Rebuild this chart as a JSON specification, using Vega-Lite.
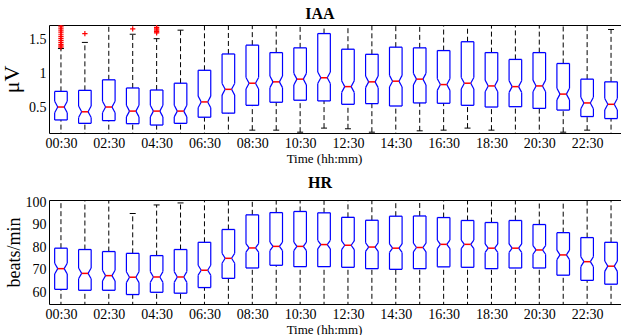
{
  "$schema": "https://vega.github.io/schema/vega-lite/v6.json",
  "background": "white",
  "padding": {"left": 0, "top": 5, "right": 0, "bottom": 0},
  "config": {
    "font": "Liberation Serif",
    "view": {"stroke": "black", "strokeWidth": 1},
    "axis": {"grid": false, "ticks": false, "domain": false, "labelFontSize": 14, "labelColor": "black", "titleColor": "black", "titleFontWeight": "normal", "labelFont": "Liberation Serif", "titleFont": "Liberation Serif", "labelOverlap": false},
    "title": {"font": "Liberation Serif", "fontSize": 16, "fontWeight": "bold", "color": "black", "anchor": "middle", "dx": -16}
  },
  "datasets": {
    "iaa": [
      {"h": 0, "lo": 0.05, "q1": 0.31, "nlo": 0.415, "med": 0.50, "nhi": 0.585, "q3": 0.73, "hi": 1.36},
      {"h": 1, "lo": 0.05, "q1": 0.26, "nlo": 0.345, "med": 0.43, "nhi": 0.515, "q3": 0.745, "hi": 1.45},
      {"h": 2, "lo": 0.05, "q1": 0.30, "nlo": 0.415, "med": 0.50, "nhi": 0.585, "q3": 0.90, "hi": 1.9},
      {"h": 3, "lo": 0.05, "q1": 0.255, "nlo": 0.355, "med": 0.44, "nhi": 0.525, "q3": 0.78, "hi": 1.57},
      {"h": 4, "lo": 0.05, "q1": 0.235, "nlo": 0.355, "med": 0.44, "nhi": 0.525, "q3": 0.75, "hi": 1.505},
      {"h": 5, "lo": 0.05, "q1": 0.26, "nlo": 0.355, "med": 0.44, "nhi": 0.525, "q3": 0.85, "hi": 1.63},
      {"h": 6, "lo": 0.05, "q1": 0.35, "nlo": 0.49, "med": 0.575, "nhi": 0.66, "q3": 1.04, "hi": 1.9},
      {"h": 7, "lo": 0.05, "q1": 0.41, "nlo": 0.675, "med": 0.76, "nhi": 0.845, "q3": 1.28, "hi": 1.9},
      {"h": 8, "lo": 0.16, "q1": 0.525, "nlo": 0.765, "med": 0.85, "nhi": 0.935, "q3": 1.41, "hi": 1.9},
      {"h": 9, "lo": 0.16, "q1": 0.57, "nlo": 0.785, "med": 0.87, "nhi": 0.955, "q3": 1.30, "hi": 1.9},
      {"h": 10, "lo": 0.13, "q1": 0.60, "nlo": 0.825, "med": 0.91, "nhi": 0.995, "q3": 1.37, "hi": 1.9},
      {"h": 11, "lo": 0.19, "q1": 0.59, "nlo": 0.845, "med": 0.93, "nhi": 1.015, "q3": 1.58, "hi": 1.9},
      {"h": 12, "lo": 0.18, "q1": 0.54, "nlo": 0.715, "med": 0.80, "nhi": 0.885, "q3": 1.35, "hi": 1.9},
      {"h": 13, "lo": 0.13, "q1": 0.55, "nlo": 0.785, "med": 0.87, "nhi": 0.955, "q3": 1.275, "hi": 1.9},
      {"h": 14, "lo": 0.05, "q1": 0.515, "nlo": 0.795, "med": 0.88, "nhi": 0.965, "q3": 1.38, "hi": 1.9},
      {"h": 15, "lo": 0.15, "q1": 0.56, "nlo": 0.825, "med": 0.91, "nhi": 0.995, "q3": 1.37, "hi": 1.9},
      {"h": 16, "lo": 0.16, "q1": 0.555, "nlo": 0.745, "med": 0.83, "nhi": 0.915, "q3": 1.33, "hi": 1.9},
      {"h": 17, "lo": 0.19, "q1": 0.525, "nlo": 0.765, "med": 0.85, "nhi": 0.935, "q3": 1.46, "hi": 1.9},
      {"h": 18, "lo": 0.16, "q1": 0.50, "nlo": 0.725, "med": 0.81, "nhi": 0.895, "q3": 1.30, "hi": 1.9},
      {"h": 19, "lo": 0.05, "q1": 0.505, "nlo": 0.715, "med": 0.80, "nhi": 0.885, "q3": 1.20, "hi": 1.9},
      {"h": 20, "lo": 0.05, "q1": 0.48, "nlo": 0.725, "med": 0.81, "nhi": 0.895, "q3": 1.30, "hi": 1.9},
      {"h": 21, "lo": 0.13, "q1": 0.455, "nlo": 0.605, "med": 0.69, "nhi": 0.775, "q3": 1.14, "hi": 1.9},
      {"h": 22, "lo": 0.16, "q1": 0.36, "nlo": 0.475, "med": 0.56, "nhi": 0.645, "q3": 0.91, "hi": 1.9},
      {"h": 23, "lo": 0.05, "q1": 0.33, "nlo": 0.455, "med": 0.54, "nhi": 0.625, "q3": 0.87, "hi": 1.64}
    ],
    "iaaOut": [
      {"h": 0, "v": 1.38}, {"h": 0, "v": 1.40}, {"h": 0, "v": 1.42}, {"h": 0, "v": 1.45},
      {"h": 0, "v": 1.48}, {"h": 0, "v": 1.51}, {"h": 0, "v": 1.54}, {"h": 0, "v": 1.57},
      {"h": 0, "v": 1.60}, {"h": 0, "v": 1.63}, {"h": 0, "v": 1.66}, {"h": 0, "v": 1.69},
      {"h": 1, "v": 1.58},
      {"h": 3, "v": 1.65},
      {"h": 4, "v": 1.59}, {"h": 4, "v": 1.61}, {"h": 4, "v": 1.63}, {"h": 4, "v": 1.65}, {"h": 4, "v": 1.67}
    ],
    "hr": [
      {"h": 0, "lo": 50, "q1": 61.3, "nlo": 68.1, "med": 70.5, "nhi": 72.9, "q3": 79.6, "hi": 105},
      {"h": 1, "lo": 50, "q1": 60.9, "nlo": 66.0, "med": 68.4, "nhi": 70.8, "q3": 79.0, "hi": 105},
      {"h": 2, "lo": 50, "q1": 60.9, "nlo": 65.0, "med": 67.4, "nhi": 69.8, "q3": 78.1, "hi": 105},
      {"h": 3, "lo": 50, "q1": 59.0, "nlo": 64.3, "med": 66.7, "nhi": 69.1, "q3": 77.3, "hi": 95.0},
      {"h": 4, "lo": 50, "q1": 60.0, "nlo": 64.4, "med": 66.8, "nhi": 69.2, "q3": 76.3, "hi": 98.8},
      {"h": 5, "lo": 50, "q1": 59.6, "nlo": 64.4, "med": 66.8, "nhi": 69.2, "q3": 79.0, "hi": 99.7},
      {"h": 6, "lo": 50, "q1": 62.1, "nlo": 67.6, "med": 69.8, "nhi": 72.0, "q3": 82.2, "hi": 105},
      {"h": 7, "lo": 50, "q1": 66.2, "nlo": 72.9, "med": 75.1, "nhi": 77.3, "q3": 87.9, "hi": 105},
      {"h": 8, "lo": 50, "q1": 70.8, "nlo": 77.8, "med": 79.7, "nhi": 81.6, "q3": 94.4, "hi": 105},
      {"h": 9, "lo": 50, "q1": 72.0, "nlo": 78.5, "med": 80.4, "nhi": 82.3, "q3": 95.4, "hi": 105},
      {"h": 10, "lo": 50, "q1": 71.4, "nlo": 78.5, "med": 80.4, "nhi": 82.3, "q3": 95.9, "hi": 105},
      {"h": 11, "lo": 50, "q1": 71.4, "nlo": 79.3, "med": 81.2, "nhi": 83.1, "q3": 95.3, "hi": 105},
      {"h": 12, "lo": 50, "q1": 71.1, "nlo": 79.0, "med": 80.9, "nhi": 82.8, "q3": 93.3, "hi": 105},
      {"h": 13, "lo": 50, "q1": 70.5, "nlo": 78.2, "med": 80.1, "nhi": 82.0, "q3": 92.0, "hi": 105},
      {"h": 14, "lo": 50, "q1": 70.2, "nlo": 77.7, "med": 79.6, "nhi": 81.5, "q3": 93.8, "hi": 105},
      {"h": 15, "lo": 50, "q1": 70.5, "nlo": 78.0, "med": 79.9, "nhi": 81.8, "q3": 93.9, "hi": 105},
      {"h": 16, "lo": 50, "q1": 71.3, "nlo": 79.4, "med": 81.3, "nhi": 83.2, "q3": 93.2, "hi": 105},
      {"h": 17, "lo": 50, "q1": 71.1, "nlo": 79.4, "med": 81.3, "nhi": 83.2, "q3": 91.9, "hi": 105},
      {"h": 18, "lo": 50, "q1": 70.5, "nlo": 77.7, "med": 79.6, "nhi": 81.5, "q3": 91.0, "hi": 105},
      {"h": 19, "lo": 50, "q1": 70.8, "nlo": 77.7, "med": 79.6, "nhi": 81.5, "q3": 91.9, "hi": 105},
      {"h": 20, "lo": 50, "q1": 70.8, "nlo": 76.9, "med": 78.8, "nhi": 80.7, "q3": 90.1, "hi": 105},
      {"h": 21, "lo": 50, "q1": 67.6, "nlo": 74.5, "med": 76.6, "nhi": 78.7, "q3": 86.5, "hi": 105},
      {"h": 22, "lo": 50, "q1": 65.3, "nlo": 71.4, "med": 73.6, "nhi": 75.8, "q3": 84.3, "hi": 105},
      {"h": 23, "lo": 50, "q1": 63.6, "nlo": 69.3, "med": 71.6, "nhi": 73.9, "q3": 82.2, "hi": 105}
    ]
  },
  "spacing": 67,
  "bounds": "flush",
  "vconcat": [
    {
      "width": 574,
      "height": 108,
      "title": {"text": "IAA", "offset": 3},
      "data": {"name": "iaa"},
      "encoding": {
        "x": {"field": "h", "type": "quantitative", "scale": {"domain": [-0.5, 23.5], "nice": false, "zero": false},
          "axis": {"values": [0, 2, 4, 6, 8, 10, 12, 14, 16, 18, 20, 22], "tickCount": 12, "labelExpr": "(datum.value < 10 ? '0' : '') + datum.value + ':30'", "labelFont": "Liberation Serif", "labelFontSize": 14, "labelOverlap": false, "labelPadding": 3, "title": "Time (hh:mm)", "titleFont": "Liberation Serif", "titleFontSize": 13, "titlePadding": 2, "titleX": 275}}
      },
      "layer": [
        {"mark": {"type": "rule", "clip": true, "color": "black", "strokeDash": [5, 3], "strokeWidth": 1},
          "encoding": {"y": {"field": "lo", "type": "quantitative", "scale": {"domain": [0.118, 1.706], "nice": false, "zero": false},
            "axis": {"values": [0.5, 1, 1.5], "tickCount": 3, "format": "~g", "labelFont": "Liberation Serif", "labelFontSize": 14, "labelOverlap": false, "labelPadding": 3, "title": "μV", "titleFont": "Liberation Serif", "titleFontSize": 22, "titlePadding": 5}},
            "y2": {"field": "q1"}}},
        {"mark": {"type": "rule", "clip": true, "color": "black", "strokeDash": [5, 3], "strokeWidth": 1},
          "encoding": {"y": {"field": "q3", "type": "quantitative"}, "y2": {"field": "hi"}}},
        {"mark": {"type": "rule", "clip": true, "color": "black", "strokeWidth": 1, "xOffset": -3, "x2Offset": 3},
          "encoding": {"x2": {"field": "h"}, "y": {"field": "hi", "type": "quantitative"}}},
        {"mark": {"type": "rule", "clip": true, "color": "black", "strokeWidth": 1, "xOffset": -3, "x2Offset": 3},
          "encoding": {"x2": {"field": "h"}, "y": {"field": "lo", "type": "quantitative"}}},
        {"mark": {"type": "rule", "clip": true, "color": "#0000ff", "strokeWidth": 1.3, "xOffset": -6.3, "x2Offset": 6.3},
          "encoding": {"x2": {"field": "h"}, "y": {"field": "q1", "type": "quantitative"}}},
        {"mark": {"type": "rule", "clip": true, "color": "#0000ff", "strokeWidth": 1.3, "xOffset": -6.3, "x2Offset": 6.3},
          "encoding": {"x2": {"field": "h"}, "y": {"field": "q3", "type": "quantitative"}}},
        {"mark": {"type": "rule", "clip": true, "color": "#0000ff", "strokeWidth": 1.2, "xOffset": -6.3},
          "encoding": {"y": {"field": "q1", "type": "quantitative"}, "y2": {"field": "nlo"}}},
        {"mark": {"type": "rule", "clip": true, "color": "#0000ff", "strokeWidth": 1.2, "xOffset": -6.3},
          "encoding": {"y": {"field": "nhi", "type": "quantitative"}, "y2": {"field": "q3"}}},
        {"mark": {"type": "rule", "clip": true, "color": "#0000ff", "strokeWidth": 1.2, "xOffset": -6.3, "x2Offset": -3.2},
          "encoding": {"x2": {"field": "h"}, "y": {"field": "nlo", "type": "quantitative"}, "y2": {"field": "med"}}},
        {"mark": {"type": "rule", "clip": true, "color": "#0000ff", "strokeWidth": 1.2, "xOffset": -3.2, "x2Offset": -6.3},
          "encoding": {"x2": {"field": "h"}, "y": {"field": "med", "type": "quantitative"}, "y2": {"field": "nhi"}}},
        {"mark": {"type": "rule", "clip": true, "color": "#0000ff", "strokeWidth": 1.2, "xOffset": 6.3},
          "encoding": {"y": {"field": "q1", "type": "quantitative"}, "y2": {"field": "nlo"}}},
        {"mark": {"type": "rule", "clip": true, "color": "#0000ff", "strokeWidth": 1.2, "xOffset": 6.3},
          "encoding": {"y": {"field": "nhi", "type": "quantitative"}, "y2": {"field": "q3"}}},
        {"mark": {"type": "rule", "clip": true, "color": "#0000ff", "strokeWidth": 1.2, "xOffset": 6.3, "x2Offset": 3.2},
          "encoding": {"x2": {"field": "h"}, "y": {"field": "nlo", "type": "quantitative"}, "y2": {"field": "med"}}},
        {"mark": {"type": "rule", "clip": true, "color": "#0000ff", "strokeWidth": 1.2, "xOffset": 3.2, "x2Offset": 6.3},
          "encoding": {"x2": {"field": "h"}, "y": {"field": "med", "type": "quantitative"}, "y2": {"field": "nhi"}}},
        {"mark": {"type": "rule", "clip": true, "color": "#ff0000", "strokeWidth": 1.5, "xOffset": -3.2, "x2Offset": 3.2},
          "encoding": {"x2": {"field": "h"}, "y": {"field": "med", "type": "quantitative"}}},
        {"data": {"name": "iaaOut"},
          "mark": {"type": "point", "clip": true, "shape": "M-1,0H1M0,-1V1", "filled": false, "color": "#ff0000", "strokeWidth": 1.2, "size": 28, "opacity": 1},
          "encoding": {"y": {"field": "v", "type": "quantitative"}}}
      ]
    },
    {
      "width": 574,
      "height": 104,
      "title": {"text": "HR", "offset": 4},
      "data": {"name": "hr"},
      "encoding": {
        "x": {"field": "h", "type": "quantitative", "scale": {"domain": [-0.5, 23.5], "nice": false, "zero": false},
          "axis": {"values": [0, 2, 4, 6, 8, 10, 12, 14, 16, 18, 20, 22], "tickCount": 12, "labelExpr": "(datum.value < 10 ? '0' : '') + datum.value + ':30'", "labelFont": "Liberation Serif", "labelFontSize": 14, "labelOverlap": false, "labelPadding": 3, "title": "Time (hh:mm)", "titleFont": "Liberation Serif", "titleFontSize": 13, "titlePadding": 2, "titleX": 275}}
      },
      "layer": [
        {"mark": {"type": "rule", "clip": true, "color": "black", "strokeDash": [5, 3], "strokeWidth": 1},
          "encoding": {"y": {"field": "lo", "type": "quantitative", "scale": {"domain": [54.8, 101], "nice": false, "zero": false},
            "axis": {"values": [60, 70, 80, 90, 100], "tickCount": 5, "labelFont": "Liberation Serif", "labelFontSize": 14, "labelOverlap": false, "labelPadding": 3, "title": "beats/min", "titleFont": "Liberation Serif", "titleFontSize": 18, "titlePadding": 2}},
            "y2": {"field": "q1"}}},
        {"mark": {"type": "rule", "clip": true, "color": "black", "strokeDash": [5, 3], "strokeWidth": 1},
          "encoding": {"y": {"field": "q3", "type": "quantitative"}, "y2": {"field": "hi"}}},
        {"mark": {"type": "rule", "clip": true, "color": "black", "strokeWidth": 1, "xOffset": -3, "x2Offset": 3},
          "encoding": {"x2": {"field": "h"}, "y": {"field": "hi", "type": "quantitative"}}},
        {"mark": {"type": "rule", "clip": true, "color": "#0000ff", "strokeWidth": 1.3, "xOffset": -6.3, "x2Offset": 6.3},
          "encoding": {"x2": {"field": "h"}, "y": {"field": "q1", "type": "quantitative"}}},
        {"mark": {"type": "rule", "clip": true, "color": "#0000ff", "strokeWidth": 1.3, "xOffset": -6.3, "x2Offset": 6.3},
          "encoding": {"x2": {"field": "h"}, "y": {"field": "q3", "type": "quantitative"}}},
        {"mark": {"type": "rule", "clip": true, "color": "#0000ff", "strokeWidth": 1.2, "xOffset": -6.3},
          "encoding": {"y": {"field": "q1", "type": "quantitative"}, "y2": {"field": "nlo"}}},
        {"mark": {"type": "rule", "clip": true, "color": "#0000ff", "strokeWidth": 1.2, "xOffset": -6.3},
          "encoding": {"y": {"field": "nhi", "type": "quantitative"}, "y2": {"field": "q3"}}},
        {"mark": {"type": "rule", "clip": true, "color": "#0000ff", "strokeWidth": 1.2, "xOffset": -6.3, "x2Offset": -3.2},
          "encoding": {"x2": {"field": "h"}, "y": {"field": "nlo", "type": "quantitative"}, "y2": {"field": "med"}}},
        {"mark": {"type": "rule", "clip": true, "color": "#0000ff", "strokeWidth": 1.2, "xOffset": -3.2, "x2Offset": -6.3},
          "encoding": {"x2": {"field": "h"}, "y": {"field": "med", "type": "quantitative"}, "y2": {"field": "nhi"}}},
        {"mark": {"type": "rule", "clip": true, "color": "#0000ff", "strokeWidth": 1.2, "xOffset": 6.3},
          "encoding": {"y": {"field": "q1", "type": "quantitative"}, "y2": {"field": "nlo"}}},
        {"mark": {"type": "rule", "clip": true, "color": "#0000ff", "strokeWidth": 1.2, "xOffset": 6.3},
          "encoding": {"y": {"field": "nhi", "type": "quantitative"}, "y2": {"field": "q3"}}},
        {"mark": {"type": "rule", "clip": true, "color": "#0000ff", "strokeWidth": 1.2, "xOffset": 6.3, "x2Offset": 3.2},
          "encoding": {"x2": {"field": "h"}, "y": {"field": "nlo", "type": "quantitative"}, "y2": {"field": "med"}}},
        {"mark": {"type": "rule", "clip": true, "color": "#0000ff", "strokeWidth": 1.2, "xOffset": 3.2, "x2Offset": 6.3},
          "encoding": {"x2": {"field": "h"}, "y": {"field": "med", "type": "quantitative"}, "y2": {"field": "nhi"}}},
        {"mark": {"type": "rule", "clip": true, "color": "#ff0000", "strokeWidth": 1.5, "xOffset": -3.2, "x2Offset": 3.2},
          "encoding": {"x2": {"field": "h"}, "y": {"field": "med", "type": "quantitative"}}}
      ]
    }
  ]
}
